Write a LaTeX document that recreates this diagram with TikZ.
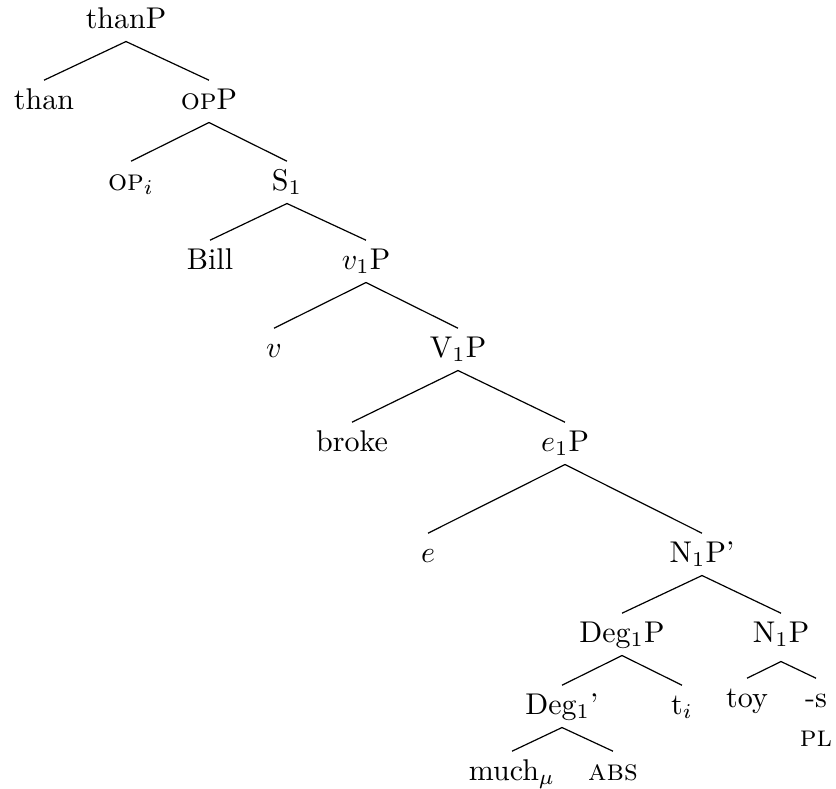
\documentclass[tikz,border=0pt]{standalone}
\usepackage{amssymb}
\usepackage{amsmath}
\usepackage{tikz}

\begin{document}
\begin{tikzpicture}[x=0.11713cm, y=-0.11713cm, anchor=base, text height=6.8pt, text depth=1.7pt, inner sep=2.6pt]
    \useasboundingbox (0,0) rectangle (83.6,78.8);

    \node  (TP)   at (12.6,  2.8)    {thanP};
    \node  (T)    at ( 4.4, 10.9)    {than};
    \node  (OPP)  at (20.9, 10.9)    {\textsc{op}P};
    \node  (OP)   at (13.1, 19.0)    {\textsc{op}$_i$};
    \node  (S)    at (28.7, 19.0)    {S$_1$};
    \node  (B)    at (21.0, 26.9)    {Bill};
    \node  (vP)   at (36.6, 26.9)    {$v_1$P};
    \node  (v)    at (27.4, 35.7)    {$v$};
    \node  (VP)   at (45.8, 35.7)    {V$_1$P};
    \node  (Br)   at (35.2, 45.1)    {broke};
    \node  (eP)   at (56.5, 45.1)    {$e_1$P};
    \node  (e)    at (42.8, 56.2)    {$e$};
    \node  (NPb)  at (70.2, 56.2)    {N$_1$P'};
    \node  (DP)   at (62.2, 64.2)    {Deg$_1$P};
    \node  (NP)   at (78.1, 64.2)    {N$_1$P};
    \node  (Db)   at (56.2, 71.4)    {Deg$_1$'};
    \node  (t)    at (68.2, 71.4)    {t$_i$};
    \node  (toy)  at (74.7, 70.7)    {toy};
    \node  (s)    at (81.6, 70.7)    {-s};
    \node  (PL)   at (81.6, 74.6)    {\textsc{pl}};
    \node  (M)    at (51.2, 78.0)    {much$_\mu$};
    \node  (A)    at (61.3, 78.0)    {\textsc{abs}};

    \draw (TP.south)  -- (T.north);
    \draw (TP.south)  -- (OPP.north);

    \draw (OPP.south) -- (OP.north);
    \draw (OPP.south) -- (S.north);

    \draw (S.south)   -- (B.north);
    \draw (S.south)   -- (vP.north);

    \draw (vP.south)  -- (v.north);
    \draw (vP.south)  -- (VP.north);

    \draw (VP.south)  -- (Br.north);
    \draw (VP.south)  -- (eP.north);

    \draw (eP.south)  -- (e.north);
    \draw (eP.south)  -- (NPb.north);

    \draw (NPb.south) -- (DP.north);
    \draw (NPb.south) -- (NP.north);

    \draw (DP.south)  -- (Db.north);
    \draw (DP.south)  -- (t.north);

    \draw ([yshift=-2pt]NP.south) -- (toy.north);
    \draw ([yshift=-2pt]NP.south) -- (s.north);

    \draw (Db.south)  -- (M.north);
    \draw (Db.south)  -- (A.north);
\end{tikzpicture}
\end{document}
